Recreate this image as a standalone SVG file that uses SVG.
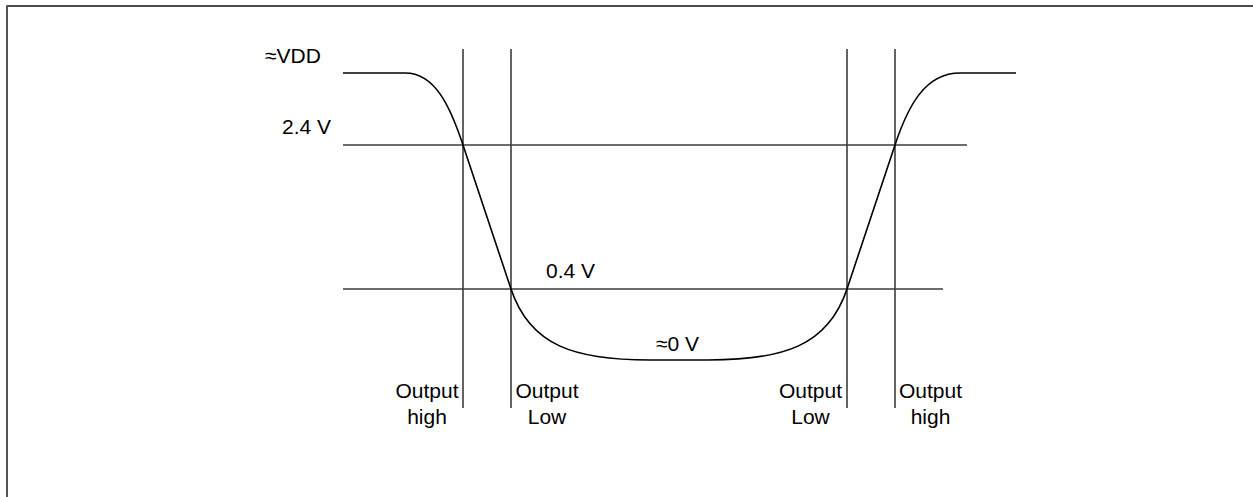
<svg xmlns="http://www.w3.org/2000/svg" width="1253" height="497" viewBox="0 0 1253 497">
<style>
.grid{stroke:#3c3c3c;stroke-width:1.6;fill:none}
.curve{stroke:#000;stroke-width:1.6;fill:none}
text{font-family:"Liberation Sans",Arial,sans-serif;font-size:21px;fill:#000}
.m{text-anchor:middle}
</style>
<rect width="1253" height="497" fill="#fff"/>
<g id="frame">
<line x1="7" y1="6" x2="1253" y2="6" stroke="#111" stroke-width="1.4"/>
<line x1="7" y1="5.3" x2="7" y2="497" stroke="#555" stroke-width="2"/>
</g>
<g id="grid">
<line class="grid" x1="343" y1="145" x2="967" y2="145"/>
<line class="grid" x1="343" y1="289" x2="943" y2="289"/>
<line class="grid" x1="463" y1="49" x2="463" y2="408"/>
<line class="grid" x1="511" y1="49" x2="511" y2="408"/>
<line class="grid" x1="847" y1="49" x2="847" y2="408"/>
<line class="grid" x1="895" y1="49" x2="895" y2="408"/>
</g>
<g id="waveform">
<path class="curve" d="M343,73 H405 C435,73 450,106 463,145 L511,289 C530,346 575,360 650,360 H708 C783,360 828,346 847,289 L895,145 C908,106 925,73 960,73 H1016"/>
</g>
<g id="levels">
<text x="265" y="63">≈VDD</text>
<text x="282" y="134">2.4 V</text>
<text x="546" y="278">0.4 V</text>
<text x="656" y="351">≈0 V</text>
</g>
<g id="label-1"><text class="m" x="427" y="398">Output</text><text class="m" x="427" y="424">high</text></g>
<g id="label-2"><text class="m" x="547" y="398">Output</text><text class="m" x="547" y="424">Low</text></g>
<g id="label-3"><text class="m" x="810.5" y="398">Output</text><text class="m" x="810.5" y="424">Low</text></g>
<g id="label-4"><text class="m" x="930.5" y="398">Output</text><text class="m" x="930.5" y="424">high</text></g>
</svg>
